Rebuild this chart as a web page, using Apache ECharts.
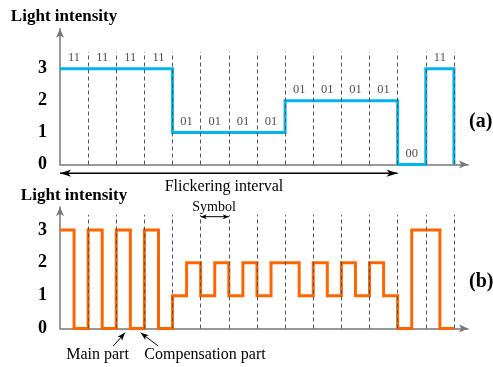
<!DOCTYPE html>
<html>
<head>
<meta charset="utf-8">
<script src="https://cdn.jsdelivr.net/npm/echarts@6/dist/echarts.min.js"></script>
<style>
html,body{margin:0;padding:0;background:#fff;}
#chart{width:493px;height:367px;}
</style>
</head>
<body>
<div id="chart"></div>
<script>
// ---- data ----
const bitLabels = ['11','11','11','11','01','01','01','01','01','01','01','01','00','11'];
const levelsA   = [3,3,3,3,1,1,1,1,2,2,2,2,0,3];     // (a) intensity per symbol
const mainB     = [3,3,3,3,1,1,1,1,2,2,2,2,0,3];     // (b) main part per symbol
const compB     = [0,0,0,0,2,2,2,2,1,1,1,1,3,0];     // (b) compensation part per symbol
const yTickLabels = ['0','1','2','3'];
const flickerSymbols = 12;   // flickering interval length (symbols)
const symbolMarked = 5;      // symbol index with "Symbol" bracket

// ---- build polylines through the axes ----
const nSym = levelsA.length;
const lineA = [];
levelsA.forEach((v,i)=>{ lineA.push([i,v],[i+1,v]); });
lineA.push([nSym,0]);
const lineB = [];
mainB.forEach((m,i)=>{ lineB.push([i,m],[i+0.5,m],[i+0.5,compB[i]],[i+1,compB[i]]); });
const labelPts = bitLabels.map((t,i)=>[i+0.5, levelsA[i], t]);

const serif = '"Liberation Serif","Times New Roman",serif';
const axisColor = '#777';

function dashes(top){
  const d=[];
  for(let i=1;i<=nSym;i++) d.push([{coord:[i,0]},{coord:[i,top]}]);
  return d;
}
function yAxisCfg(gi,max,padLeft,gap){
  return {
    type:'value', gridIndex:gi, min:0, max:max, interval:1,
    name:'Light intensity', nameLocation:'end', nameGap:gap,
    nameTextStyle:{fontFamily:serif,fontWeight:'bold',fontSize:17,color:'#000',padding:[0,0,0,padLeft]},
    axisLine:{show:true,lineStyle:{color:axisColor,width:1.5},symbol:['none','arrow'],symbolSize:[6,9]},
    axisTick:{show:false}, splitLine:{show:false},
    axisLabel:{margin:13,fontFamily:serif,fontWeight:'bold',fontSize:18,color:'#000',
      formatter:v=> (v>=0 && v<yTickLabels.length && v===Math.round(v)) ? yTickLabels[v] : ''}
  };
}
function xAxisCfg(gi){
  return {
    type:'value', gridIndex:gi, min:0, max:14.5,
    axisLine:{show:true,onZero:false,lineStyle:{color:axisColor,width:1.5},symbol:['none','arrow'],symbolSize:[6,9]},
    axisTick:{show:false}, axisLabel:{show:false}, splitLine:{show:false}
  };
}

const chart = echarts.init(document.getElementById('chart'),null,{renderer:'canvas'});
chart.setOption({
  animation:false,
  backgroundColor:'#fff',
  grid:[
    {left:60, top:28.8, width:408, height:135.7},
    {left:60, top:207, width:408, height:121.5}
  ],
  xAxis:[xAxisCfg(0), xAxisCfg(1)],
  yAxis:[yAxisCfg(0,4.25,8,4), yAxisCfg(1,3.7,28,2.5)],
  series:[
    {type:'line', xAxisIndex:0, yAxisIndex:0, data:lineA, showSymbol:false, z:2,
     lineStyle:{color:'#00B4EF',width:3,cap:'butt',join:'miter'}},
    {type:'line', xAxisIndex:1, yAxisIndex:1, data:lineB, showSymbol:false, z:2,
     lineStyle:{color:'#FF6600',width:3,cap:'butt',join:'miter'}},
    {type:'scatter', xAxisIndex:0, yAxisIndex:0, data:labelPts, symbolSize:0, z:3,
     label:{show:true,position:'top',distance:4,fontFamily:serif,fontSize:12.5,color:'#222',
            formatter:p=>p.value[2]}},
    {type:'line', xAxisIndex:0, yAxisIndex:0, data:[], z:5,
     markLine:{silent:true,symbol:'none',label:{show:false},
       lineStyle:{color:'#555',width:1,type:[4,3]}, data:dashes(3.52)}},
    {type:'line', xAxisIndex:1, yAxisIndex:1, data:[], z:5,
     markLine:{silent:true,symbol:'none',label:{show:false},
       lineStyle:{color:'#555',width:1,type:[4,3]}, data:dashes(3.46)}}
  ]
});

// ---- annotation arrows, placed through the grids' coordinate systems ----
function px(gi,pt){ return chart.convertToPixel({gridIndex:gi}, pt); }
function head(tip,from,len,w){
  const dx=tip[0]-from[0], dy=tip[1]-from[1], L=Math.hypot(dx,dy);
  const ux=dx/L, uy=dy/L, nx=-uy, ny=ux;
  const bx=tip[0]-ux*len, by=tip[1]-uy*len;
  return {type:'polygon', z:10, shape:{points:[tip,[bx+nx*w/2,by+ny*w/2],[tip[0]-ux*len*0.75,tip[1]-uy*len*0.75],[bx-nx*w/2,by-ny*w/2]]},
          style:{fill:'#000'}};
}
function arrow(a,b,both,len,w,lw){
  const g=[{type:'line', z:10, shape:{x1:a[0],y1:a[1],x2:b[0],y2:b[1]}, style:{stroke:'#000',lineWidth:lw}}];
  g.push(head(b,a,len,w));
  if(both) g.push(head(a,b,len,w));
  return g;
}
const flA = px(0,[0,-0.276]), flB = px(0,[flickerSymbols,-0.276]);
const syA = px(1,[symbolMarked,3.405]), syB = px(1,[symbolMarked+1,3.405]);
const m1 = px(1,[1.894,-0.533]), m2 = px(1,[2.31,-0.128]);
const c1 = px(1,[3.49,-0.533]),  c2 = px(1,[2.868,-0.128]);

let graphics = []
  .concat(arrow(flA,flB,true,11,7,1.5))
  .concat(arrow(syA,syB,true,6,5,1))
  .concat(arrow(m1,m2,false,8,6,1))
  .concat(arrow(c1,c2,false,8,6,1))
  .concat([
    {type:'text', x:224, y:186.7, style:{text:'Flickering interval',font:'16px '+serif,fill:'#000',align:'center',verticalAlign:'middle'}},
    {type:'text', x:214, y:207, style:{text:'Symbol',font:'14px '+serif,fill:'#000',align:'center',verticalAlign:'middle'}},
    {type:'text', x:97.5, y:355, style:{text:'Main part',font:'16px '+serif,fill:'#000',align:'center',verticalAlign:'middle'}},
    {type:'text', x:205, y:355, style:{text:'Compensation part',font:'16px '+serif,fill:'#000',align:'center',verticalAlign:'middle'}},
    {type:'text', x:469, y:121.7, style:{text:'(a)',font:'bold 20px '+serif,fill:'#000',align:'left',verticalAlign:'middle'}},
    {type:'text', x:469, y:281.7, style:{text:'(b)',font:'bold 20px '+serif,fill:'#000',align:'left',verticalAlign:'middle'}}
  ]);
chart.setOption({graphic: graphics});
</script>
</body>
</html>
